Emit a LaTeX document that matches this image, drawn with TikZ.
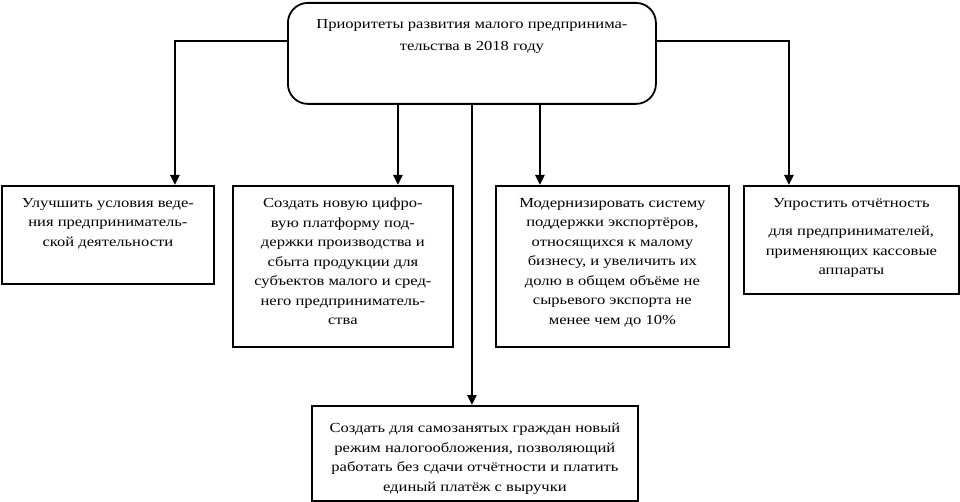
\documentclass[tikz,border=0pt]{standalone}
\usepackage{fontspec}
\setmainfont[FakeStretch=1.2]{Liberation Serif}
\usetikzlibrary{arrows.meta}
\begin{document}
\begin{tikzpicture}[x=1pt,y=-1pt,
  box/.style={draw, line width=1.8pt, inner sep=0pt, anchor=north west},
  txt/.style={align=center, font=\fontsize{13.8}{19.5}\selectfont, anchor=north, inner sep=0pt},
  arr/.style={line width=2.5pt, -{Triangle[length=10pt,width=9pt]}}]
\useasboundingbox (0,0) rectangle (960,502);
\node[box, rounded corners=20pt, minimum width=368pt, minimum height=101pt] (top) at (287,2) {};
\node[txt, font=\fontsize{13.8}{22}\selectfont] (ttop) at ([yshift=-17pt]top.north) {Приоритеты развития малого предпринима-\\тельства в 2018 году};
\node[box, minimum width=212pt, minimum height=98pt] (b1) at (1,185) {};
\node[box, minimum width=220pt, minimum height=161pt] (b2) at (232,185) {};
\node[box, minimum width=233pt, minimum height=161pt] (b3) at (495,185) {};
\node[box, minimum width=215pt, minimum height=108pt] (b4) at (743,185) {};
\node[box, minimum width=326pt, minimum height=95pt] (b5) at (311,405) {};
\node[txt] (t1) at ([yshift=-13pt]b1.north) {Улучшить условия веде-\\ния предприниматель-\\ской деятельности};
\node[txt] (t2) at ([yshift=-13pt]b2.north) {Создать новую цифро-\\вую платформу под-\\держки производства и\\сбыта продукции для\\субъектов малого и сред-\\него предприниматель-\\ства};
\node[txt] (t3) at ([yshift=-13pt]b3.north) {Модернизировать систему\\поддержки экспортёров,\\относящихся к малому\\бизнесу, и увеличить их\\долю в общем объёме не\\сырьевого экспорта не\\менее чем до 10\%};
\node[txt] (t4) at ([yshift=-13pt]b4.north) {Упростить отчётность\\[9pt]для предпринимателей,\\применяющих кассовые\\аппараты};
\node[txt] (t5) at ([yshift=-18pt]b5.north) {Создать для самозанятых граждан новый\\режим налогообложения, позволяющий\\работать без сдачи отчётности и платить\\единый платёж с выручки};
\draw[arr] ([yshift=12.5pt]top.west) -| ([xshift=67pt]b1.north);
\draw[arr] ([yshift=12.5pt]top.east) -| ([xshift=-62.5pt]b4.north);
\draw[arr] ([xshift=-74pt]top.south) -- ([xshift=-74pt]top.south |- b2.north);
\draw[arr] ([xshift=68pt]top.south) -- ([xshift=68pt]top.south |- b3.north);
\draw[arr] (top.south) -- (top.south |- b5.north);
\end{tikzpicture}
\end{document}
